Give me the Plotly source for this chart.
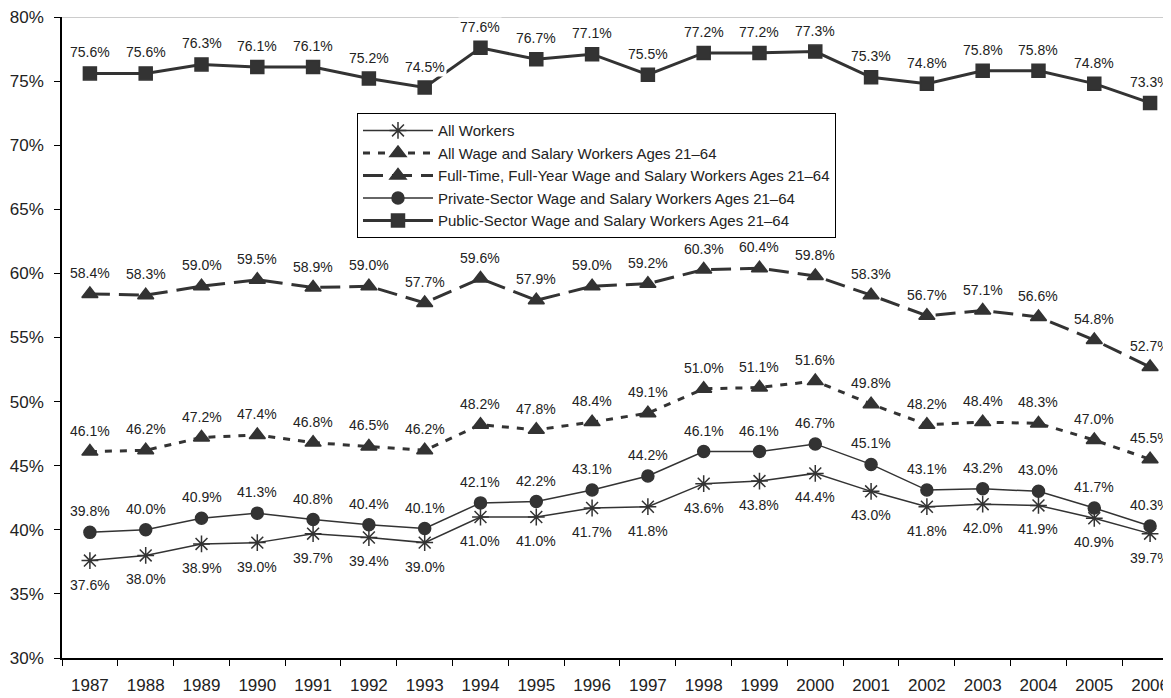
import plotly.graph_objects as go

years = list(range(1987, 2007))

all_workers = [37.6, 38.0, 38.9, 39.0, 39.7, 39.4, 39.0, 41.0, 41.0, 41.7,
               41.8, 43.6, 43.8, 44.4, 43.0, 41.8, 42.0, 41.9, 40.9, 39.7]
all_wage = [46.1, 46.2, 47.2, 47.4, 46.8, 46.5, 46.2, 48.2, 47.8, 48.4,
            49.1, 51.0, 51.1, 51.6, 49.8, 48.2, 48.4, 48.3, 47.0, 45.5]
full_time = [58.4, 58.3, 59.0, 59.5, 58.9, 59.0, 57.7, 59.6, 57.9, 59.0,
             59.2, 60.3, 60.4, 59.8, 58.3, 56.7, 57.1, 56.6, 54.8, 52.7]
private = [39.8, 40.0, 40.9, 41.3, 40.8, 40.4, 40.1, 42.1, 42.2, 43.1,
           44.2, 46.1, 46.1, 46.7, 45.1, 43.1, 43.2, 43.0, 41.7, 40.3]
public = [75.6, 75.6, 76.3, 76.1, 76.1, 75.2, 74.5, 77.6, 76.7, 77.1,
          75.5, 77.2, 77.2, 77.3, 75.3, 74.8, 75.8, 75.8, 74.8, 73.3]

names = [
    "All Workers",
    "All Wage and Salary Workers Ages 21\u201364",
    "Full-Time, Full-Year Wage and Salary Workers Ages 21\u201364",
    "Private-Sector Wage and Salary Workers Ages 21\u201364",
    "Public-Sector Wage and Salary Workers Ages 21\u201364",
]

LINE = "#333333"
TXT = "#222222"
FONT = "Liberation Sans, Arial, sans-serif"

# (values, name, line width, dash, marker symbol, marker size, label above?)
series = [
    (all_workers, names[0], 1.5, "solid", "asterisk-open", 14, False),
    (all_wage, names[1], 3, "7px,8px", "triangle-up", 14, True),
    (full_time, names[2], 3, "20px,9px", "triangle-up", 14, True),
    (private, names[3], 1.5, "solid", "circle", 12, True),
    (public, names[4], 3, "solid", "square", 13, True),
]

fig = go.Figure()
annotations = []
for vals, name, lw, dash, sym, ms, above in series:
    fig.add_trace(go.Scatter(
        x=years, y=vals, name=name, mode="lines+markers",
        line=dict(color=LINE, width=lw, dash=dash),
        marker=dict(symbol=sym, size=ms, color=LINE,
                    line=dict(color=LINE, width=1.5)),
        cliponaxis=False,
    ))
    for yr, v in zip(years, vals):
        annotations.append(dict(
            x=yr, y=v, xref="x", yref="y", text=f"{v:.1f}%",
            showarrow=False, yshift=21 if above else -24,
            font=dict(size=14, color=TXT, family=FONT),
            bgcolor="white" if name == names[4] else None,
            borderpad=1,
        ))

# thin grey line along the top of the plot area
fig.add_shape(type="line", xref="paper", yref="y", x0=0, x1=1, y0=80, y1=80,
              line=dict(color="#999999", width=1), layer="below")

# page has an 8px body margin, so the figure is 8px smaller each way
fig.update_layout(
    width=1163, height=690,
    margin=dict(l=54, r=0, t=9, b=40),
    paper_bgcolor="white", plot_bgcolor="white",
    font=dict(family=FONT, color=TXT),
    annotations=annotations,
    showlegend=True,
    legend=dict(
        x=0.266, y=0.85, xanchor="left", yanchor="top",
        bgcolor="white", bordercolor="black", borderwidth=1,
        font=dict(size=15, color=TXT, family=FONT),
        tracegroupgap=0, itemwidth=70,
    ),
    xaxis=dict(
        range=[1986.5, 2006.375], automargin=False,
        tickmode="array", tickvals=years, ticktext=[str(y) for y in years],
        ticks="", ticklabelstandoff=11, ticklabeloverflow="allow",
        minor=dict(tickvals=[y - 0.5 for y in years],
                   ticks="outside", ticklen=6, tickcolor="black"),
        showline=True, linecolor="black", linewidth=1.5,
        showgrid=False, zeroline=False,
        tickfont=dict(size=17, color=TXT),
    ),
    yaxis=dict(
        range=[30, 80], dtick=5, ticksuffix="%", automargin=False,
        ticks="outside", ticklen=6, tickcolor="black", ticklabelstandoff=7,
        ticklabeloverflow="allow",
        showline=True, linecolor="black", linewidth=1.5,
        showgrid=False, zeroline=False,
        tickfont=dict(size=17, color=TXT),
    ),
)

fig.write_html("out.html")
